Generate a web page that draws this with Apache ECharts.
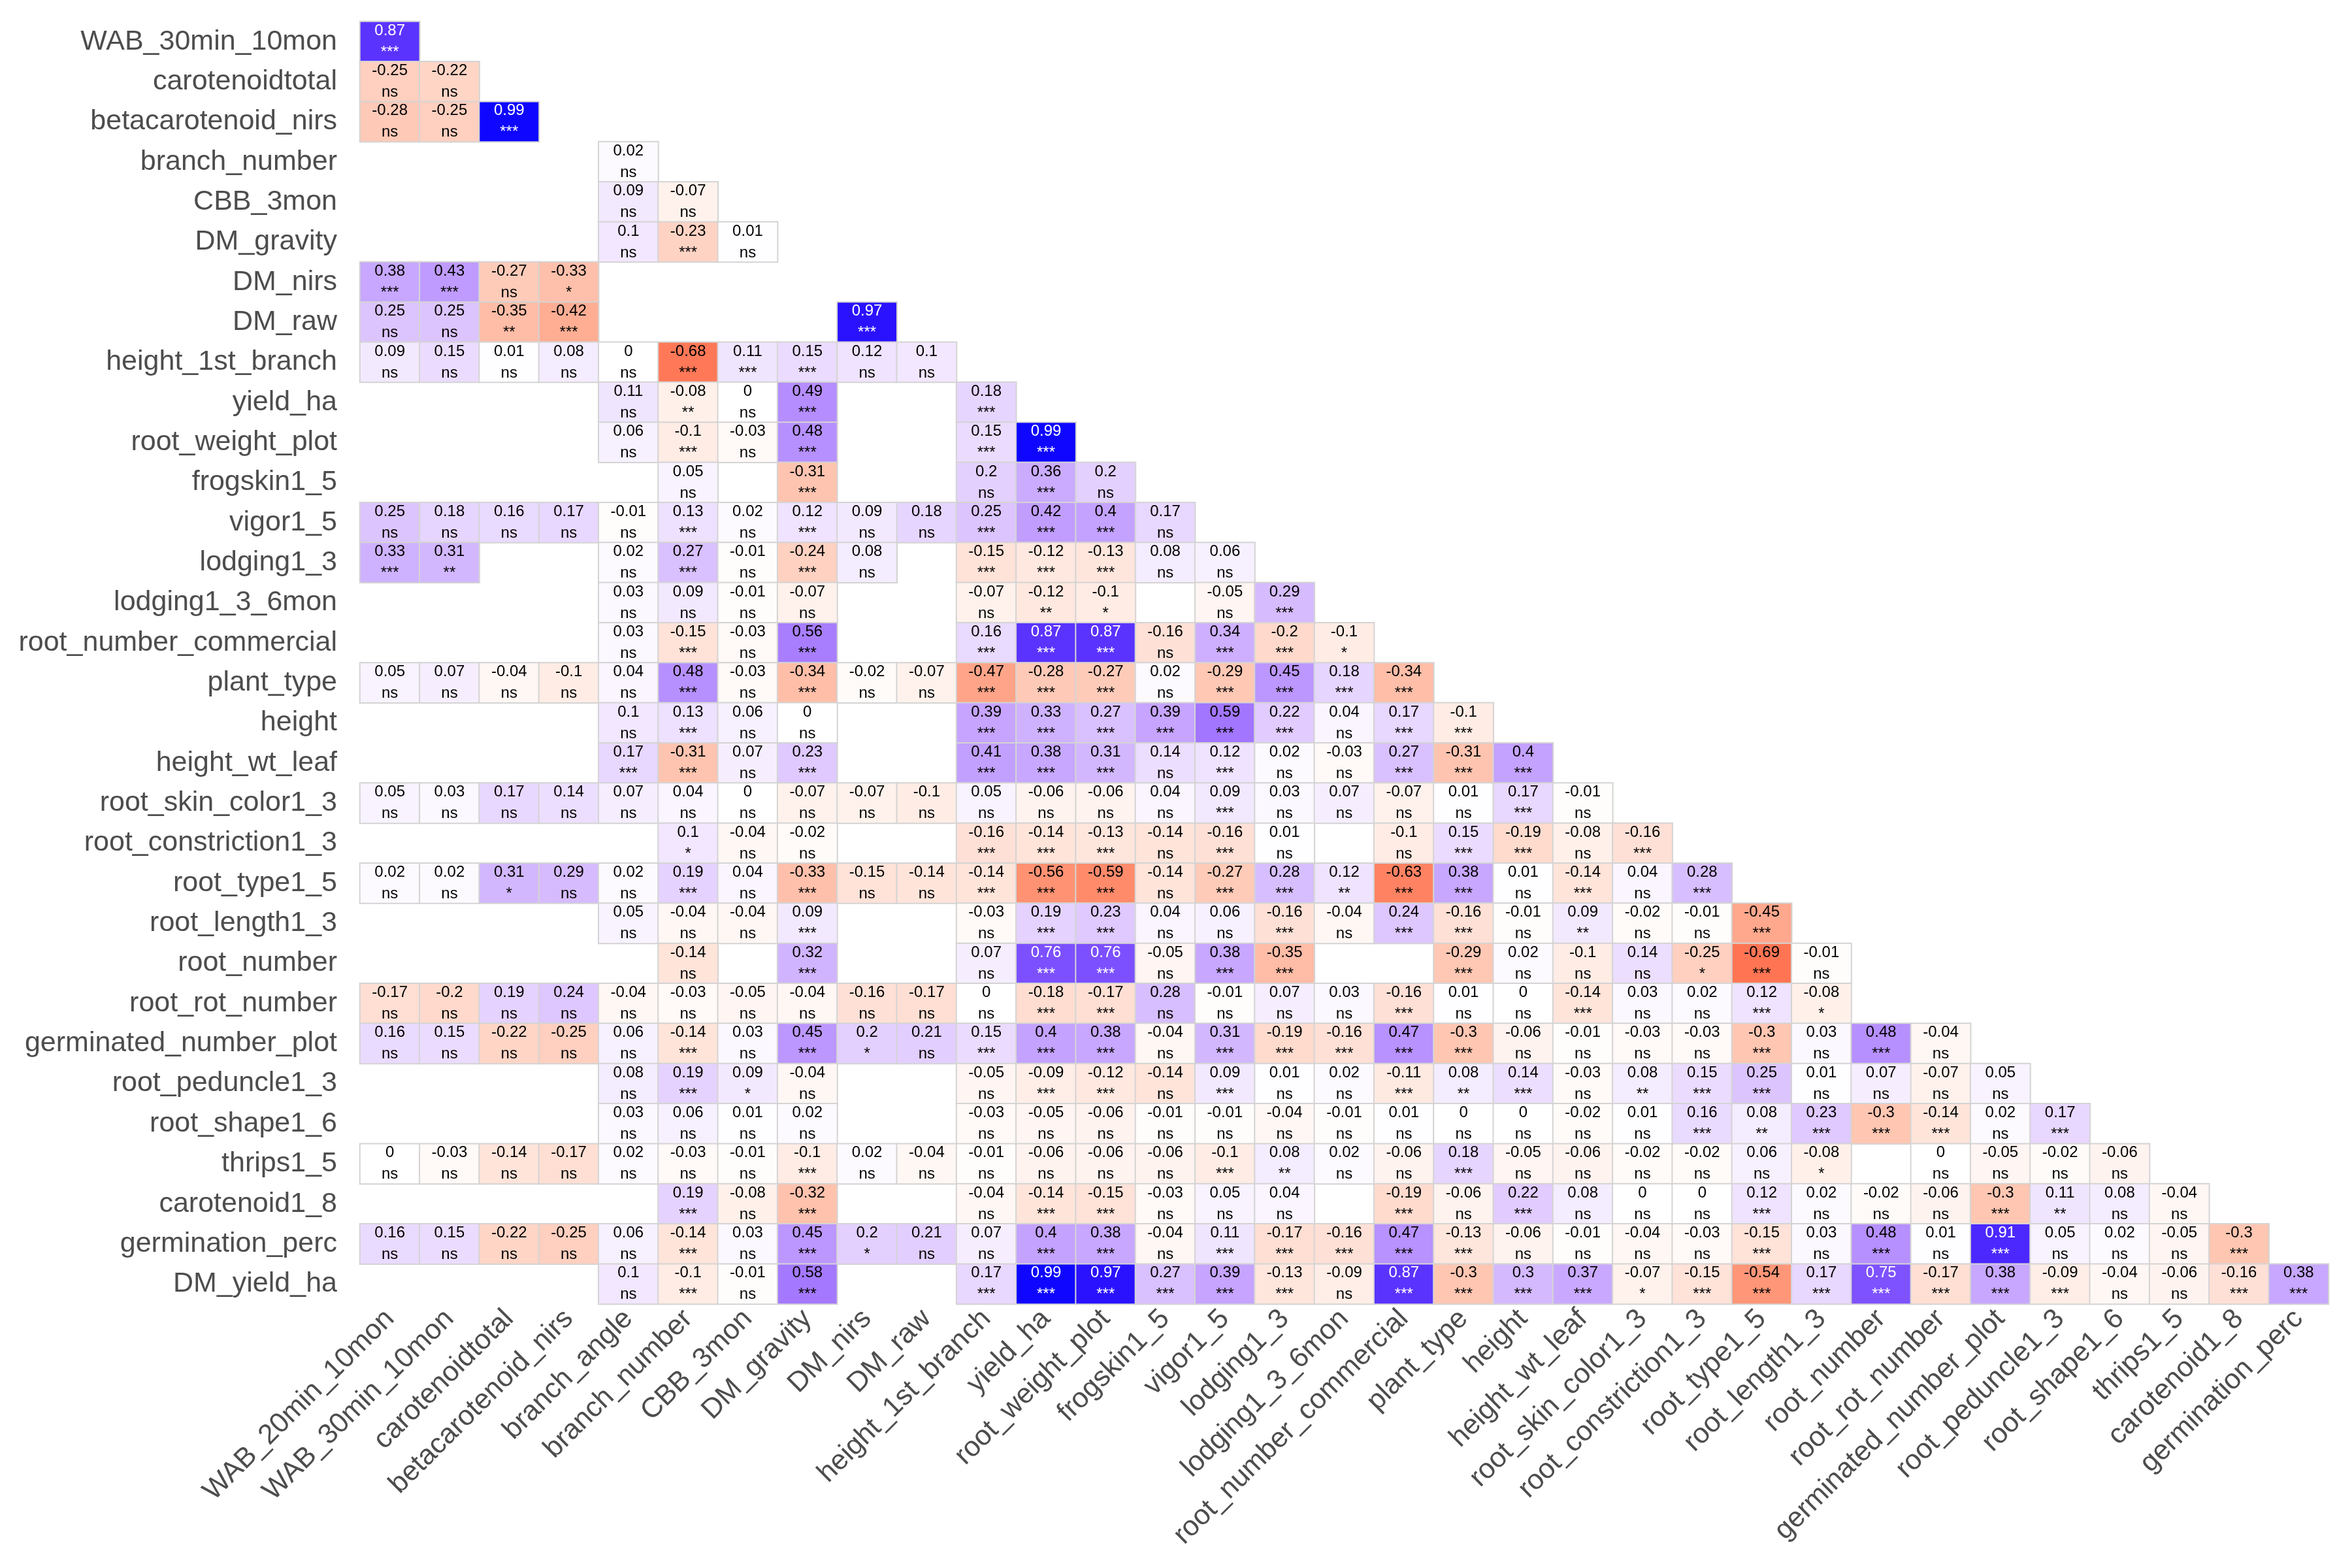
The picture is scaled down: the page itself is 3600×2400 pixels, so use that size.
<!DOCTYPE html>
<html>
<head>
<meta charset="utf-8">
<script src="https://cdn.jsdelivr.net/npm/echarts@6/dist/echarts.min.js"></script>
<style>html,body{margin:0;padding:0;background:#fff}#c{width:3600px;height:2400px}</style>
</head>
<body>
<div id="c"></div>
<script>
const N = null;
const rowLabels = ["WAB_30min_10mon","carotenoidtotal","betacarotenoid_nirs","branch_number","CBB_3mon","DM_gravity","DM_nirs","DM_raw","height_1st_branch","yield_ha","root_weight_plot","frogskin1_5","vigor1_5","lodging1_3","lodging1_3_6mon","root_number_commercial","plant_type","height","height_wt_leaf","root_skin_color1_3","root_constriction1_3","root_type1_5","root_length1_3","root_number","root_rot_number","germinated_number_plot","root_peduncle1_3","root_shape1_6","thrips1_5","carotenoid1_8","germination_perc","DM_yield_ha"];
const colLabels = ["WAB_20min_10mon","WAB_30min_10mon","carotenoidtotal","betacarotenoid_nirs","branch_angle","branch_number","CBB_3mon","DM_gravity","DM_nirs","DM_raw","height_1st_branch","yield_ha","root_weight_plot","frogskin1_5","vigor1_5","lodging1_3","lodging1_3_6mon","root_number_commercial","plant_type","height","height_wt_leaf","root_skin_color1_3","root_constriction1_3","root_type1_5","root_length1_3","root_number","root_rot_number","germinated_number_plot","root_peduncle1_3","root_shape1_6","thrips1_5","carotenoid1_8","germination_perc"];

// correlation values, one array per row (index = column)
const values = [
[0.87],
[-0.25,-0.22],
[-0.28,-0.25,0.99],
[N,N,N,N,0.02],
[N,N,N,N,0.09,-0.07],
[N,N,N,N,0.1,-0.23,0.01],
[0.38,0.43,-0.27,-0.33,N,N,N,N],
[0.25,0.25,-0.35,-0.42,N,N,N,N,0.97],
[0.09,0.15,0.01,0.08,0,-0.68,0.11,0.15,0.12,0.1],
[N,N,N,N,0.11,-0.08,0,0.49,N,N,0.18],
[N,N,N,N,0.06,-0.1,-0.03,0.48,N,N,0.15,0.99],
[N,N,N,N,N,0.05,N,-0.31,N,N,0.2,0.36,0.2],
[0.25,0.18,0.16,0.17,-0.01,0.13,0.02,0.12,0.09,0.18,0.25,0.42,0.4,0.17],
[0.33,0.31,N,N,0.02,0.27,-0.01,-0.24,0.08,N,-0.15,-0.12,-0.13,0.08,0.06],
[N,N,N,N,0.03,0.09,-0.01,-0.07,N,N,-0.07,-0.12,-0.1,N,-0.05,0.29],
[N,N,N,N,0.03,-0.15,-0.03,0.56,N,N,0.16,0.87,0.87,-0.16,0.34,-0.2,-0.1],
[0.05,0.07,-0.04,-0.1,0.04,0.48,-0.03,-0.34,-0.02,-0.07,-0.47,-0.28,-0.27,0.02,-0.29,0.45,0.18,-0.34],
[N,N,N,N,0.1,0.13,0.06,0,N,N,0.39,0.33,0.27,0.39,0.59,0.22,0.04,0.17,-0.1],
[N,N,N,N,0.17,-0.31,0.07,0.23,N,N,0.41,0.38,0.31,0.14,0.12,0.02,-0.03,0.27,-0.31,0.4],
[0.05,0.03,0.17,0.14,0.07,0.04,0,-0.07,-0.07,-0.1,0.05,-0.06,-0.06,0.04,0.09,0.03,0.07,-0.07,0.01,0.17,-0.01],
[N,N,N,N,N,0.1,-0.04,-0.02,N,N,-0.16,-0.14,-0.13,-0.14,-0.16,0.01,N,-0.1,0.15,-0.19,-0.08,-0.16],
[0.02,0.02,0.31,0.29,0.02,0.19,0.04,-0.33,-0.15,-0.14,-0.14,-0.56,-0.59,-0.14,-0.27,0.28,0.12,-0.63,0.38,0.01,-0.14,0.04,0.28],
[N,N,N,N,0.05,-0.04,-0.04,0.09,N,N,-0.03,0.19,0.23,0.04,0.06,-0.16,-0.04,0.24,-0.16,-0.01,0.09,-0.02,-0.01,-0.45],
[N,N,N,N,N,-0.14,N,0.32,N,N,0.07,0.76,0.76,-0.05,0.38,-0.35,N,N,-0.29,0.02,-0.1,0.14,-0.25,-0.69,-0.01],
[-0.17,-0.2,0.19,0.24,-0.04,-0.03,-0.05,-0.04,-0.16,-0.17,0,-0.18,-0.17,0.28,-0.01,0.07,0.03,-0.16,0.01,0,-0.14,0.03,0.02,0.12,-0.08,N],
[0.16,0.15,-0.22,-0.25,0.06,-0.14,0.03,0.45,0.2,0.21,0.15,0.4,0.38,-0.04,0.31,-0.19,-0.16,0.47,-0.3,-0.06,-0.01,-0.03,-0.03,-0.3,0.03,0.48,-0.04],
[N,N,N,N,0.08,0.19,0.09,-0.04,N,N,-0.05,-0.09,-0.12,-0.14,0.09,0.01,0.02,-0.11,0.08,0.14,-0.03,0.08,0.15,0.25,0.01,0.07,-0.07,0.05],
[N,N,N,N,0.03,0.06,0.01,0.02,N,N,-0.03,-0.05,-0.06,-0.01,-0.01,-0.04,-0.01,0.01,0,0,-0.02,0.01,0.16,0.08,0.23,-0.3,-0.14,0.02,0.17],
[0,-0.03,-0.14,-0.17,0.02,-0.03,-0.01,-0.1,0.02,-0.04,-0.01,-0.06,-0.06,-0.06,-0.1,0.08,0.02,-0.06,0.18,-0.05,-0.06,-0.02,-0.02,0.06,-0.08,N,0,-0.05,-0.02,-0.06],
[N,N,N,N,N,0.19,-0.08,-0.32,N,N,-0.04,-0.14,-0.15,-0.03,0.05,0.04,N,-0.19,-0.06,0.22,0.08,0,0,0.12,0.02,-0.02,-0.06,-0.3,0.11,0.08,-0.04],
[0.16,0.15,-0.22,-0.25,0.06,-0.14,0.03,0.45,0.2,0.21,0.07,0.4,0.38,-0.04,0.11,-0.17,-0.16,0.47,-0.13,-0.06,-0.01,-0.04,-0.03,-0.15,0.03,0.48,0.01,0.91,0.05,0.02,-0.05,-0.3],
[N,N,N,N,0.1,-0.1,-0.01,0.58,N,N,0.17,0.99,0.97,0.27,0.39,-0.13,-0.09,0.87,-0.3,0.3,0.37,-0.07,-0.15,-0.54,0.17,0.75,-0.17,0.38,-0.09,-0.04,-0.06,-0.16,0.38]
];

// significance labels, one string per row ('.' = no cell)
const signif = [
"***",
"ns ns",
"ns ns ***",
". . . . ns",
". . . . ns ns",
". . . . ns *** ns",
"*** *** ns * . . . .",
"ns ns ** *** . . . . ***",
"ns ns ns ns ns *** *** *** ns ns",
". . . . ns ** ns *** . . ***",
". . . . ns *** ns *** . . *** ***",
". . . . . ns . *** . . ns *** ns",
"ns ns ns ns ns *** ns *** ns ns *** *** *** ns",
"*** ** . . ns *** ns *** ns . *** *** *** ns ns",
". . . . ns ns ns ns . . ns ** * . ns ***",
". . . . ns *** ns *** . . *** *** *** ns *** *** *",
"ns ns ns ns ns *** ns *** ns ns *** *** *** ns *** *** *** ***",
". . . . ns *** ns ns . . *** *** *** *** *** *** ns *** ***",
". . . . *** *** ns *** . . *** *** *** ns *** ns ns *** *** ***",
"ns ns ns ns ns ns ns ns ns ns ns ns ns ns *** ns ns ns ns *** ns",
". . . . . * ns ns . . *** *** *** ns *** ns . ns *** *** ns ***",
"ns ns * ns ns *** ns *** ns ns *** *** *** ns *** *** ** *** *** ns *** ns ***",
". . . . ns ns ns *** . . ns *** *** ns ns *** ns *** *** ns ** ns ns ***",
". . . . . ns . *** . . ns *** *** ns *** *** . . *** ns ns ns * *** ns",
"ns ns ns ns ns ns ns ns ns ns ns *** *** ns ns ns ns *** ns ns *** ns ns *** * .",
"ns ns ns ns ns *** ns *** * ns *** *** *** ns *** *** *** *** *** ns ns ns ns *** ns *** ns",
". . . . ns *** * ns . . ns *** *** ns *** ns ns *** ** *** ns ** *** *** ns ns ns ns",
". . . . ns ns ns ns . . ns ns ns ns ns ns ns ns ns ns ns ns *** ** *** *** *** ns ***",
"ns ns ns ns ns ns ns *** ns ns ns ns ns ns *** ** ns ns *** ns ns ns ns ns * . ns ns ns ns",
". . . . . *** ns *** . . ns *** *** ns ns ns . *** ns *** ns ns ns *** ns ns ns *** ** ns ns",
"ns ns ns ns ns *** ns *** * ns ns *** *** ns *** *** *** *** *** ns ns ns ns *** ns *** ns *** ns ns ns ***",
". . . . ns *** ns *** . . *** *** *** *** *** *** ns *** *** *** *** * *** *** *** *** *** *** *** ns ns *** ***"
];

// ---- Lab-space diverging palette (red - white - blue) ----
function toLin(c){c/=255;return c<=0.04045?c/12.92:Math.pow((c+0.055)/1.055,2.4);}
function toS(c){c=c<=0.0031308?12.92*c:1.055*Math.pow(c,1/2.4)-0.055;return Math.round(Math.max(0,Math.min(1,c))*255);}
function rgb2lab(r,g,b){
  r=toLin(r);g=toLin(g);b=toLin(b);
  let X=(0.4124564*r+0.3575761*g+0.1804375*b)/0.95047;
  let Y=(0.2126729*r+0.7151522*g+0.0721750*b);
  let Z=(0.0193339*r+0.1191920*g+0.9503041*b)/1.08883;
  const f=t=>t>0.008856?Math.cbrt(t):7.787*t+16/116;
  const fx=f(X),fy=f(Y),fz=f(Z);
  return [116*fy-16,500*(fx-fy),200*(fy-fz)];
}
function lab2hex(L,a,b){
  const fy=(L+16)/116,fx=fy+a/500,fz=fy-b/200;
  const fi=t=>{const t3=t*t*t;return t3>0.008856?t3:(t-16/116)/7.787;};
  const X=fi(fx)*0.95047,Y=fi(fy),Z=fi(fz)*1.08883;
  const r=3.2404542*X-1.5371385*Y-0.4985314*Z;
  const g=-0.9692660*X+1.8760108*Y+0.0415560*Z;
  const bb=0.0556434*X-0.2040259*Y+1.0572252*Z;
  return '#'+[toS(r),toS(g),toS(bb)].map(v=>v.toString(16).padStart(2,'0')).join('');
}
const W=rgb2lab(255,255,255),R=rgb2lab(255,0,0),B=rgb2lab(0,0,255);
const stops=[];
for(let i=0;i<=80;i++){
  const v=-1+i/40;
  const e=v<0?R:B, t=Math.abs(v);
  stops.push(lab2hex(W[0]+(e[0]-W[0])*t,W[1]+(e[1]-W[1])*t,W[2]+(e[2]-W[2])*t));
}

const data=[];
values.forEach((row,r)=>{
  const sig=signif[r].split(' ');
  row.forEach((v,c)=>{
    if(v===null) return;
    data.push({value:[c,r,v],sig:sig[c]});
  });
});

const FONT='"Liberation Sans", Arial, Helvetica, sans-serif';
const chart=echarts.init(document.getElementById('c'));
chart.setOption({
  animation:false,
  backgroundColor:'#ffffff',
  grid:{left:551,right:36,top:33,bottom:404,containLabel:false},
  xAxis:{type:'category',data:colLabels,
    axisLine:{show:false},axisTick:{show:false},splitLine:{show:false},splitArea:{show:false},
    axisLabel:{rotate:45,interval:0,margin:16,fontSize:43,color:'#4d4d4d',fontFamily:FONT}},
  yAxis:{type:'category',data:rowLabels,inverse:true,
    axisLine:{show:false},axisTick:{show:false},splitLine:{show:false},splitArea:{show:false},
    axisLabel:{interval:0,margin:35,fontSize:43,color:'#4d4d4d',fontFamily:FONT}},
  visualMap:{type:'continuous',show:false,min:-1,max:1,dimension:2,inRange:{color:stops}},
  series:[{
    type:'heatmap',
    data:data,
    itemStyle:{borderColor:'#d4d4d4',borderWidth:2},
    emphasis:{disabled:true},
    label:{show:true,
      formatter:p=>{
        const v=p.value[2];
        const k=v>=0.7?'w':'k';
        return '{v'+k+'|'+String(v)+'}\n{s'+k+'|'+p.data.sig+'}';
      },
      rich:{
        vk:{color:'#000',fontSize:24,lineHeight:33,fontFamily:FONT},
        sk:{color:'#000',fontSize:24,lineHeight:33,fontFamily:FONT},
        vw:{color:'#fff',fontSize:24,lineHeight:33,fontFamily:FONT},
        sw:{color:'#fff',fontSize:24,lineHeight:33,fontFamily:FONT}
      }}
  }]
});
</script>
</body>
</html>
